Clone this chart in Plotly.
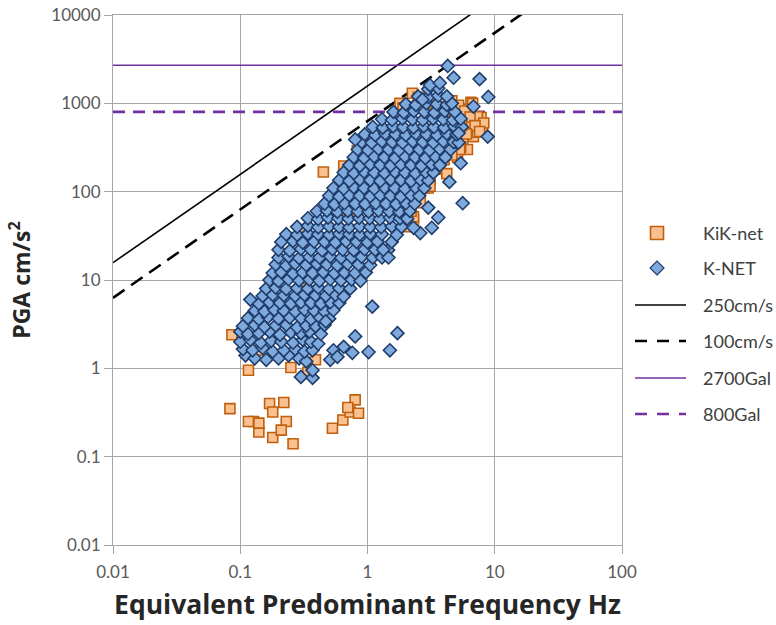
import math
import plotly.graph_objects as go

# ---------------- data ----------------
x_ticks = [0.01, 0.1, 1, 10, 100]
x_tick_labels = ["0.01", "0.1", "1", "10", "100"]
y_ticks = [0.01, 0.1, 1, 10, 100, 1000, 10000]
y_tick_labels = ["0.01", "0.1", "1", "10", "100", "1000", "10000"]

# K-NET (blue diamonds): equivalent predominant frequency (Hz)
knet_f = [
    0.11, 0.13, 0.16, 0.20, 0.24, 0.29, 0.33,
    0.105, 0.125, 0.15, 0.18, 0.22, 0.27, 0.32, 0.37,
    0.10, 0.12, 0.145, 0.175, 0.21, 0.26, 0.31, 0.36, 0.41,
    0.10, 0.115, 0.14, 0.17, 0.205, 0.25, 0.30, 0.35, 0.43,
    0.105, 0.13, 0.155, 0.19, 0.23, 0.28, 0.33, 0.39, 0.46,
    0.115, 0.14, 0.165, 0.20, 0.245, 0.30, 0.36, 0.42, 0.50,
    0.13, 0.155, 0.185, 0.22, 0.27, 0.32, 0.38, 0.46, 0.54,
    0.14, 0.17, 0.205, 0.25, 0.30, 0.36, 0.43, 0.51, 0.60,
    0.15, 0.18, 0.22, 0.27, 0.32, 0.39, 0.47, 0.56, 0.65,
    0.16, 0.19, 0.23, 0.28, 0.34, 0.41, 0.50, 0.60, 0.73,
    0.17, 0.20, 0.24, 0.29, 0.35, 0.42, 0.51, 0.62, 0.75, 0.88,
    0.18, 0.21, 0.26, 0.31, 0.37, 0.45, 0.55, 0.66, 0.80, 0.97,
    0.19, 0.23, 0.27, 0.33, 0.40, 0.48, 0.58, 0.70, 0.85, 1.05,
    0.20, 0.24, 0.29, 0.35, 0.42, 0.51, 0.62, 0.75, 0.90, 1.10, 1.30,
    0.20, 0.245, 0.30, 0.36, 0.44, 0.53, 0.64, 0.78, 0.95, 1.15, 1.45,
    0.21, 0.26, 0.31, 0.38, 0.46, 0.56, 0.68, 0.82, 1.00, 1.20, 1.55,
    0.23, 0.28, 0.34, 0.41, 0.50, 0.60, 0.72, 0.87, 1.05, 1.30, 1.70,
    0.28, 0.34, 0.41, 0.50, 0.60, 0.72, 0.87, 1.05, 1.28, 1.55, 1.85,
    0.34, 0.41, 0.49, 0.59, 0.71, 0.86, 1.04, 1.25, 1.50, 1.80, 2.05,
    0.40, 0.48, 0.58, 0.70, 0.84, 1.02, 1.22, 1.48, 1.78, 2.15,
    0.46, 0.55, 0.66, 0.80, 0.96, 1.16, 1.40, 1.68, 2.00, 2.35,
    0.50, 0.60, 0.72, 0.87, 1.05, 1.26, 1.52, 1.83, 2.20, 2.55,
    0.54, 0.65, 0.78, 0.94, 1.13, 1.36, 1.64, 1.97, 2.37, 2.80,
    0.60, 0.72, 0.87, 1.05, 1.26, 1.52, 1.83, 2.20, 2.60, 3.00,
    0.65, 0.78, 0.94, 1.13, 1.36, 1.64, 1.97, 2.37, 2.85, 3.30,
    0.72, 0.87, 1.05, 1.26, 1.52, 1.83, 2.20, 2.65, 3.20, 3.70,
    0.78, 0.94, 1.13, 1.36, 1.64, 1.97, 2.37, 2.85, 3.40, 4.10,
    0.84, 1.01, 1.22, 1.47, 1.77, 2.13, 2.56, 3.08, 3.70, 4.50,
    0.90, 1.08, 1.30, 1.57, 1.89, 2.27, 2.73, 3.30, 3.95, 4.75, 5.20,
    0.95, 1.15, 1.38, 1.66, 2.00, 2.40, 2.90, 3.50, 4.20, 5.00,
    1.10, 1.32, 1.59, 1.91, 2.30, 2.77, 3.33, 4.00, 4.80, 5.50,
    1.30, 1.56, 1.88, 2.26, 2.72, 3.27, 3.94, 4.70, 5.40,
    1.60, 1.93, 2.32, 2.80, 3.36, 4.05, 4.85,
    2.00, 2.40, 2.90, 3.50, 4.20, 4.60,
    2.50, 3.00, 3.60, 4.20,
    3.00, 3.60,
    # scattered points
    0.12, 0.80, 4.27, 4.75, 7.60, 8.90, 8.80, 6.80, 5.60, 5.40,
    5.20, 4.40, 3.60, 3.20, 2.60, 2.30, 3.00, 1.46, 1.33, 1.09,
    1.72, 1.50, 1.02, 0.80, 0.65, 0.76, 0.54, 0.51, 0.58, 0.30,
    0.37, 0.37, 0.47, 3.10, 3.70, 2.70,
]
# K-NET peak ground acceleration (cm/s2)
knet_pga = [
    1.40, 1.30, 1.25, 1.30, 1.40, 1.30, 1.20,
    1.65, 1.60, 1.70, 1.55, 1.60, 1.65, 1.55, 1.60,
    2.00, 2.10, 1.95, 2.05, 2.00, 1.95, 2.10, 2.00, 1.90,
    2.60, 2.45, 2.50, 2.60, 2.40, 2.55, 2.50, 2.60, 2.45,
    3.00, 3.10, 2.95, 3.05, 3.10, 2.90, 3.05, 3.00, 3.10,
    3.70, 3.60, 3.80, 3.65, 3.75, 3.70, 3.60, 3.80, 3.65,
    4.50, 4.40, 4.60, 4.50, 4.40, 4.60, 4.50, 4.40, 4.55,
    5.40, 5.60, 5.50, 5.40, 5.60, 5.50, 5.40, 5.60, 5.50,
    6.60, 6.80, 6.70, 6.60, 6.80, 6.70, 6.60, 6.80, 6.50,
    8.00, 8.20, 7.90, 8.10, 8.00, 8.20, 7.90, 8.10, 8.00,
    10.0, 9.70, 10.2, 9.90, 10.1, 9.80, 10.2, 9.90, 10.1, 9.80,
    12.0, 12.3, 11.8, 12.2, 12.0, 12.3, 11.9, 12.1, 12.0, 12.2,
    15.0, 14.6, 15.3, 14.8, 15.2, 15.0, 14.7, 15.2, 15.0, 14.8,
    18.0, 18.5, 17.7, 18.2, 18.0, 18.4, 17.8, 18.1, 18.3, 17.9, 18.0,
    22.0, 21.5, 22.5, 22.0, 21.6, 22.4, 22.0, 21.7, 22.3, 22.0, 21.8,
    27.0, 27.5, 26.5, 27.2, 27.0, 26.6, 27.4, 27.0, 26.7, 27.3, 27.0,
    33.0, 32.5, 33.5, 33.0, 32.4, 33.4, 33.0, 32.6, 33.3, 33.0, 32.5,
    40.0, 41.0, 39.5, 40.5, 40.0, 39.4, 40.6, 40.0, 39.6, 40.4, 40.0,
    50.0, 49.0, 51.0, 50.0, 49.5, 50.5, 50.0, 49.0, 51.0, 50.0, 49.5,
    60.0, 61.0, 59.0, 60.5, 60.0, 59.5, 61.0, 60.0, 59.5, 60.5,
    73.0, 72.0, 74.0, 73.0, 72.5, 74.0, 73.0, 72.0, 74.0, 73.0,
    90.0, 88.0, 91.0, 90.0, 88.5, 91.0, 90.0, 88.0, 91.0, 90.0,
    110, 108, 112, 110, 108, 111, 110, 108, 112, 110,
    135, 132, 137, 135, 132, 137, 135, 132, 137, 134,
    165, 162, 168, 165, 162, 168, 165, 161, 167, 164,
    200, 196, 204, 200, 197, 203, 200, 196, 204, 200,
    245, 240, 250, 245, 240, 250, 245, 240, 250, 245,
    300, 294, 306, 300, 294, 306, 300, 294, 306, 300,
    365, 358, 372, 365, 358, 372, 365, 358, 372, 365, 360,
    445, 436, 454, 445, 436, 454, 445, 436, 454, 445,
    540, 530, 550, 540, 530, 550, 540, 530, 550, 540,
    660, 648, 672, 660, 648, 672, 660, 648, 670,
    800, 785, 815, 800, 785, 815, 800,
    980, 960, 1000, 980, 960, 1000,
    1200, 1180, 1220, 1200,
    1450, 1480,
    # scattered points
    6.0, 390, 2650, 1950, 1880, 1180, 420, 920, 74, 210,
    460, 129, 51, 39, 34, 39, 66, 18, 22, 5.0,
    2.5, 1.6, 1.53, 2.3, 1.75, 1.5, 1.6, 1.25, 1.35, 0.80,
    0.78, 0.95, 3.4, 1600, 1700, 1100,
]

# KiK-net (orange squares)
kik_f = [
    # low-amplitude groups
    0.086, 0.116, 0.25, 0.39, 0.34, 0.14, 0.14,
    0.083, 0.127, 0.14, 0.17, 0.18, 0.18, 0.22, 0.23, 0.21, 0.26, 0.14, 0.116,
    0.53, 0.64, 0.73, 0.80, 0.85, 0.70,
    # above the main band
    0.45, 0.65, 0.85, 1.10, 0.31, 0.31, 0.83, 0.90, 2.10, 1.80, 2.25, 1.90, 2.50,
    # upper-right group
    4.60, 6.50, 7.80, 8.00, 5.90, 6.10, 5.60, 4.20, 3.70, 3.10, 2.80, 2.30, 2.20,
    3.00, 2.00, 7.30, 8.20, 6.70, 3.00, 2.60, 6.10, 6.80, 6.10, 7.30, 5.40, 5.10,
    4.20, 3.10, 2.30, 3.00, 3.50, 4.00, 5.20, 5.80, 6.40, 7.00, 7.60, 6.00, 5.50,
    5.00, 4.40, 4.80, 5.30, 4.60, 4.00, 3.40, 2.90, 2.50, 2.20, 2.60,
    # mixed inside the band
    0.50, 1.00, 2.00, 0.30, 1.50, 3.00, 4.00, 3.50, 0.20, 0.70, 1.20, 0.40,
]
kik_pga = [
    2.4, 0.95, 1.02, 1.25, 0.90, 4.8, 1.6,
    0.35, 0.25, 0.19, 0.40, 0.32, 0.165, 0.41, 0.25, 0.20, 0.14, 0.24, 0.25,
    0.21, 0.26, 0.32, 0.44, 0.31, 0.36,
    167, 195, 278, 420, 36, 25, 290, 350, 920, 1000, 1300, 890, 1170,
    1070, 1030, 690, 530, 800, 600, 390, 320, 210, 135, 110, 48, 42,
    110, 40, 705, 600, 1000, 125, 104, 850, 420, 300, 470, 320, 245,
    160, 115, 52, 1000, 1100, 1000, 950, 820, 700, 560, 480, 450, 560,
    700, 600, 380, 300, 260, 230, 180, 150, 90, 60, 75,
    30, 100, 300, 8, 400, 600, 800, 900, 5, 60, 150, 12,
]

# reference lines
line_freq = [0.01, 100]
velocity_levels = [250, 100]          # cm/s  -> PGA = 2*pi*f*V
velocity_names = ["250cm/s", "100cm/s"]
accel_levels = [2700, 800]            # Gal
accel_names = ["2700Gal", "800Gal"]

assert len(knet_f) == len(knet_pga)
assert len(kik_f) == len(kik_pga)

# ---------------- styles ----------------
FONT = "Lato, 'Open Sans', sans-serif"
TITLE_FONT = "'Open Sans', Lato, sans-serif"
KIK_FILL, KIK_EDGE = "#FAC08F", "#C0600E"
KNET_FILL, KNET_EDGE = "#7EA9DC", "#1F3D6B"
PURPLE = "#7030A0"
vel_style = [dict(color="black", width=1.6, dash="solid"),
             dict(color="black", width=2.6, dash="14px,8px")]
acc_style = [dict(color=PURPLE, width=1.6, dash="solid"),
             dict(color=PURPLE, width=2.6, dash="12px,8px")]

ML, MR, MT, MB = 113, 154, 15, 80
W, H = 776, 625
PW, PH = W - ML - MR, H - MT - MB

fig = go.Figure()

for v, name, st in zip(velocity_levels, velocity_names, vel_style):
    fig.add_trace(go.Scatter(
        x=line_freq, y=[2 * math.pi * f * v for f in line_freq],
        mode="lines", name=name, showlegend=False, line=st))

for a, name, st in zip(accel_levels, accel_names, acc_style):
    fig.add_trace(go.Scatter(
        x=line_freq, y=[a for _ in line_freq],
        mode="lines", name=name, showlegend=False, line=st))

fig.add_trace(go.Scatter(
    x=kik_f, y=kik_pga, mode="markers", name="KiK-net", showlegend=False,
    marker=dict(symbol="square", size=10, color=KIK_FILL,
                line=dict(color=KIK_EDGE, width=1.6)),
))
fig.add_trace(go.Scatter(
    x=knet_f, y=knet_pga, mode="markers", name="K-NET", showlegend=False,
    marker=dict(symbol="diamond", size=10, color=KNET_FILL,
                line=dict(color=KNET_EDGE, width=1.6)),
))

# ---------------- legend (drawn in paper space) ----------------
legend_names = ["KiK-net", "K-NET"] + velocity_names + accel_names
legend_row_px = [233, 268, 305, 341, 378, 414]


def px_x(p):
    return (p - ML) / PW


def px_y(p):
    return (H - MB - p) / PH


shapes = []
annotations = []
sym_x = px_x(657)
for i, (name, ry) in enumerate(zip(legend_names, legend_row_px)):
    yy = px_y(ry)
    annotations.append(dict(
        x=px_x(701), y=yy, xref="paper", yref="paper", xanchor="left", yanchor="middle",
        text=name, showarrow=False, font=dict(family=FONT, size=18, color="#404040")))
    if i == 0:
        shapes.append(dict(type="rect", xref="paper", yref="paper",
                           xsizemode="pixel", ysizemode="pixel",
                           xanchor=sym_x, yanchor=yy, x0=-6.5, x1=6.5, y0=-6.5, y1=6.5,
                           fillcolor=KIK_FILL, line=dict(color=KIK_EDGE, width=1.6)))
    elif i == 1:
        shapes.append(dict(type="path", xref="paper", yref="paper",
                           xsizemode="pixel", ysizemode="pixel",
                           xanchor=sym_x, yanchor=yy, path="M0,-7 L7,0 L0,7 L-7,0 Z",
                           fillcolor=KNET_FILL, line=dict(color=KNET_EDGE, width=1.2)))
    else:
        st = (vel_style + acc_style)[i - 2]
        shapes.append(dict(type="line", xref="paper", yref="paper",
                           x0=px_x(635), x1=px_x(686), y0=yy, y1=yy,
                           line=dict(color=st["color"], width=st["width"],
                                     dash=st["dash"].replace("14px,8px", "12px,10px").replace("12px,8px", "12px,10px"))))

axis_common = dict(
    type="log", showgrid=True, gridcolor="#A6A6A6", gridwidth=1,
    showline=True, linecolor="#A6A6A6", linewidth=1, mirror=True,
    ticks="outside", ticklen=8, tickcolor="#A6A6A6",
    tickfont=dict(family=FONT, size=17, color="#595959"),
    zeroline=False,
)

fig.update_layout(
    width=W, height=H,
    margin=dict(l=ML, r=MR, t=MT, b=MB, autoexpand=False),
    paper_bgcolor="white", plot_bgcolor="white",
    showlegend=False,
    shapes=shapes, annotations=annotations,
    xaxis=dict(
        axis_common, range=[-2, 2], tickvals=x_ticks, ticktext=x_tick_labels,
        ticklabelstandoff=4,
        title=dict(text="<b>Equivalent Predominant Frequency Hz</b>",
                   font=dict(family=TITLE_FONT, size=26.5, color="#262626"), standoff=14),
    ),
    yaxis=dict(
        axis_common, range=[-2, 4], tickvals=y_ticks, ticktext=y_tick_labels,
        title=dict(text="<b>PGA cm/s<sup>2</sup></b>",
                   font=dict(family=TITLE_FONT, size=23, color="#262626"), standoff=14),
    ),
)

fig.write_html("out.html")
